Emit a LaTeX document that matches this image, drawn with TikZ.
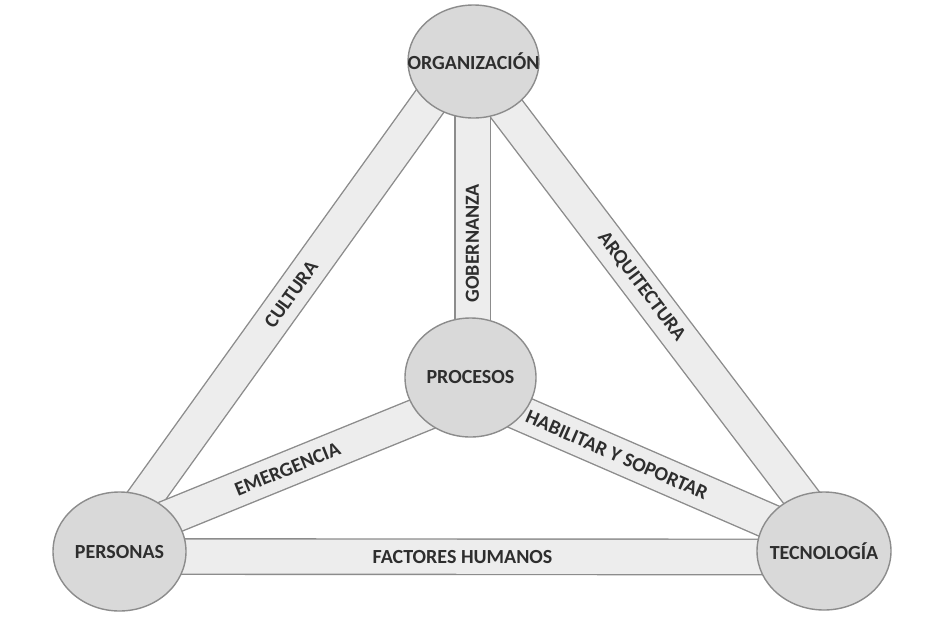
\documentclass[tikz,border=0pt]{standalone}
\usepackage{fontspec}
\setmainfont{Carlito}
\usetikzlibrary{shapes.geometric,backgrounds}
\definecolor{circfill}{HTML}{D9D9D9}
\definecolor{bandfill}{HTML}{EDEDED}
\definecolor{edgegray}{HTML}{8C8C8C}
\definecolor{txt}{HTML}{2E2E2E}
\begin{document}
\begin{tikzpicture}[x=1pt,y=-1pt,
  hub/.style={ellipse, draw=edgegray, fill=circfill, line width=1.4pt, inner sep=0pt},
  hubtext/.style={font=\fontsize{20}{24}\selectfont\bfseries, text=txt, inner sep=0pt},
  band/.style={draw=edgegray, line width=1.4pt, double=bandfill, double distance=34pt},
  bandtext/.style={font=\fontsize{20}{24}\selectfont\bfseries, text=txt, sloped, inner sep=0pt}]
\useasboundingbox (0,0) rectangle (929,630);
% hubs
\node[hub, minimum width=131pt, minimum height=113pt,
      label={[hubtext,name=orgt]center:ORGANIZACIÓN}] (org) at (473.5,61.5) {};
\node[hub, minimum width=131pt, minimum height=119pt,
      label={[hubtext,name=prot]center:PROCESOS}] (pro) at (470.5,377.5) {};
\node[hub, minimum width=133pt, minimum height=119pt,
      label={[hubtext,name=pert]center:PERSONAS}] (per) at (119.5,551.5) {};
\node[hub, minimum width=134pt, minimum height=118pt,
      label={[hubtext,name=tect]center:TECNOLOGÍA}] (tec) at (824,551) {};
% bands
\begin{pgfonlayer}{background}
\fill[white] (0,0) rectangle (929,630);
\draw[band] ([xshift=-15pt]org.center) -- ([xshift=-13pt]per.center)
  node[bandtext, pos=0.4755] (cul) {CULTURA};
\draw[band] ([xshift=-3pt]org.center) -- ([xshift=18pt]tec.center)
  node[bandtext, pos=0.46] (arq) {ARQUITECTURA};
\draw[band] ([xshift=2pt]pro.center) -- ([xshift=-1pt]org.center)
  node[bandtext, pos=0.425] (gob) {GOBERNANZA};
\draw[band] ([yshift=-5pt]per.center) -- ([yshift=-6pt]tec.center)
  node[bandtext, pos=0.487] (fac) {FACTORES HUMANOS};
\draw[band] ([yshift=14pt]per.center) -- ([yshift=-17pt]pro.center)
  node[bandtext, pos=0.4786] (eme) {EMERGENCIA};
\draw[band] ([yshift=-14pt]pro.center) -- ([yshift=6pt]tec.center)
  node[bandtext, pos=0.414] (hab) {HABILITAR Y SOPORTAR};
\end{pgfonlayer}
\end{tikzpicture}
\end{document}
